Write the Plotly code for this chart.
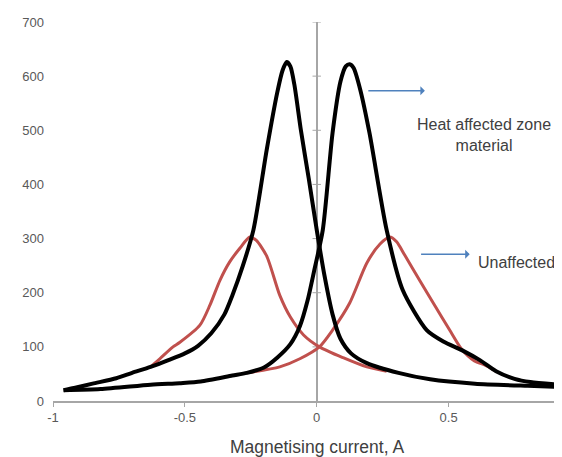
import plotly.graph_objects as go

# Heat affected zone material (black) - two branches
haz_a_x = [-0.96, -0.92, -0.85, -0.76, -0.7, -0.63, -0.56, -0.5, -0.45, -0.4, -0.35, -0.32, -0.28,
           -0.24, -0.19, -0.15, -0.13, -0.114, -0.1, -0.085, -0.06, -0.03, 0.0, 0.03, 0.06,
           0.09, 0.13, 0.19, 0.31, 0.43, 0.6, 0.8, 0.93]
haz_a_y = [20, 24, 32, 42, 52, 63, 76, 88, 102, 125, 160, 195, 250,
           316, 463, 569, 610, 626, 618, 585, 500, 410, 316, 230, 160,
           115, 88, 70, 52, 40, 32, 28, 26]

haz_b_x = [-0.96, -0.82, -0.63, -0.52, -0.44, -0.32, -0.265, -0.2, -0.15, -0.1, -0.064, -0.035,
           -0.01, 0.023, 0.06, 0.09, 0.11, 0.125, 0.14, 0.165, 0.2, 0.265, 0.326, 0.417, 0.48,
           0.55, 0.62, 0.68, 0.75, 0.81, 0.93]
haz_b_y = [20, 22, 30, 33, 36, 47, 52, 62, 80, 105, 138, 185,
           240, 316, 495, 590, 618, 622, 615, 575, 495, 316, 205, 131, 110,
           94, 75, 55, 41, 35, 30]

# Unaffected material (red) - two branches
un_c_x = [-0.63, -0.595, -0.545, -0.52, -0.443, -0.405, -0.367, -0.33, -0.29, -0.254, -0.23,
          -0.19, -0.14, -0.1, -0.05, 0.01, 0.1, 0.19, 0.265]
un_c_y = [63, 78, 100, 108, 140, 177, 223, 257, 283, 303, 297,
          268, 195, 155, 122, 100, 80, 63, 55]

un_d_x = [-0.265, -0.14, -0.064, 0.01, 0.06, 0.125, 0.19, 0.24, 0.277, 0.303, 0.333, 0.39,
          0.447, 0.504, 0.549, 0.598, 0.64, 0.68]
un_d_y = [52, 63, 78, 100, 131, 181, 255, 290, 303, 294, 270, 223,
          177, 131, 96, 74, 66, 55]

x_ticks = [-1, -0.5, 0, 0.5]
x_tick_text = ["-1", "-0.5", "0", "0.5"]
y_ticks = [0, 100, 200, 300, 400, 500, 600, 700]

RED = "#c0504d"
BLACK = "#000000"
GRAY = "#a6a6a6"

fig = go.Figure()
fig.add_trace(go.Scatter(x=[0] * (len(y_ticks) - 1), y=y_ticks[1:], mode="markers",
                         marker=dict(symbol="line-ew", size=6, line=dict(color=GRAY, width=1)),
                         hoverinfo="skip", showlegend=False))
for xs, ys in [(un_c_x, un_c_y), (un_d_x, un_d_y)]:
    fig.add_trace(go.Scatter(x=xs, y=ys, mode="lines",
                             line=dict(color=RED, width=3, shape="spline", smoothing=0.7),
                             showlegend=False))
for xs, ys in [(haz_a_x, haz_a_y), (haz_b_x, haz_b_y)]:
    fig.add_trace(go.Scatter(x=xs, y=ys, mode="lines",
                             line=dict(color=BLACK, width=4, shape="spline", smoothing=0.7),
                             showlegend=False))

fig.update_layout(
    width=562, height=457,
    margin=dict(l=45, r=8, t=14, b=64, pad=0),
    paper_bgcolor="white", plot_bgcolor="white",
    font=dict(family="Liberation Sans, Arial, sans-serif", color="#595959"),
    xaxis=dict(range=[-1, 0.93], tickvals=x_ticks, ticktext=x_tick_text,
               showline=True, linecolor=GRAY, linewidth=1.5,
               ticks="outside", ticklen=4, tickcolor=GRAY,
               zeroline=True, zerolinecolor=GRAY, zerolinewidth=1.5,
               showgrid=False, tickfont=dict(size=13, color="#595959")),
    yaxis=dict(range=[0, 700], tickvals=y_ticks, showline=False, ticks="",
               showgrid=False, zeroline=False, ticklabelstandoff=8,
               tickfont=dict(size=13, color="#595959")),
    annotations=[
        dict(x=0, y=-0.122, xref="x", yref="paper", text="Magnetising current, A",
             showarrow=False, yanchor="middle", font=dict(size=17.5, color="#404040")),
        dict(x=0.41, y=573, ax=0.19, ay=573, xref="x", yref="y", axref="x", ayref="y",
             text="", showarrow=True, arrowhead=1, arrowsize=1, arrowwidth=1.5,
             arrowcolor="#4f81bd"),
        dict(x=0.58, y=271, ax=0.39, ay=271, xref="x", yref="y", axref="x", ayref="y",
             text="", showarrow=True, arrowhead=1, arrowsize=1, arrowwidth=1.5,
             arrowcolor="#4f81bd"),
        dict(x=0.633, y=491, xref="x", yref="y", text="Heat affected zone<br>material",
             showarrow=False, font=dict(size=16, color="#404040")),
        dict(x=0.758, y=255, xref="x", yref="y", text="Unaffected",
             showarrow=False, font=dict(size=16, color="#404040")),
    ],
)

fig.write_html("out.html")
